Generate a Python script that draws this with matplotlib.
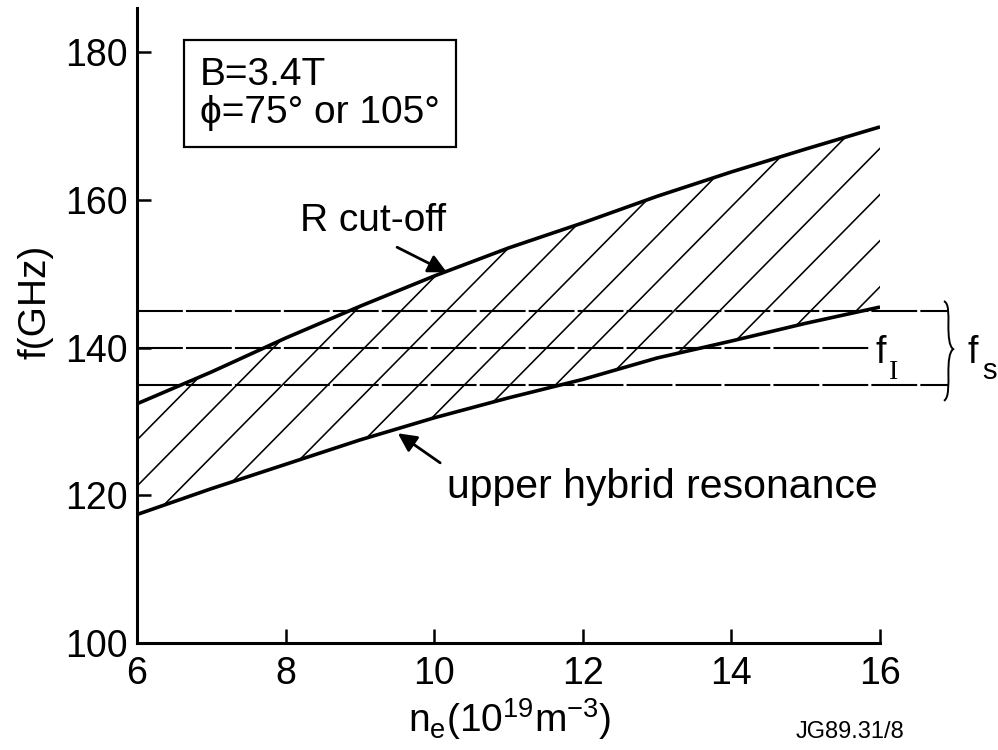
import numpy as np
import matplotlib
matplotlib.use('Agg')
import matplotlib.pyplot as plt
from matplotlib.path import Path
from matplotlib.patches import PathPatch

plt.rcParams['font.family'] = ['Liberation Sans', 'DejaVu Sans']
plt.rcParams['mathtext.fontset'] = 'custom'
plt.rcParams['mathtext.rm'] = 'Liberation Sans'
plt.rcParams['mathtext.it'] = 'Liberation Sans:italic'

# densidad (10^19 m^-3) y frecuencias (GHz)
ne = [6, 7, 8, 9, 10, 11, 12, 13, 14, 15, 16]
f_rcut = [132.4, 136.7, 141.3, 145.6, 149.7, 153.5, 156.9, 160.5, 163.8, 166.9, 169.9]
f_uhr = [117.4, 120.9, 124.2, 127.5, 130.5, 133.2, 135.7, 138.6, 140.9, 143.3, 145.5]

# banda fs y linea fI
f_band = [145, 135]
f_idler = 140

xticks = [6, 8, 10, 12, 14, 16]
yticks = [100, 120, 140, 160, 180]

fig = plt.figure(figsize=(9.98, 7.5), dpi=100)
ax = fig.add_axes([0.1373, 1 - 643 / 750, 0.7445, 635 / 750])
ax.set_xlim(6, 16)
ax.set_ylim(100, 186)

# region entre las curvas (solo para recortar el rayado)
region = ax.fill_between(ne, f_uhr, f_rcut, facecolor='none', edgecolor='none')
clip = region.get_paths()[0]

# rayado diagonal
slope, spacing, f0 = 10.2, 6.25, 127.5
xs = np.array([6.0, 16.0])
for k in range(-2, 26):
    ln, = ax.plot(xs, f0 - spacing * k + slope * (xs - 6), color='black', lw=1.15)
    ln.set_clip_path(clip, ax.transData)

ax.plot(ne, f_rcut, color='black', lw=2.6, solid_capstyle='butt')
ax.plot(ne, f_uhr, color='black', lw=2.6, solid_capstyle='butt')

# lineas horizontales
for f in f_band:
    ax.plot([6, 16.92], [f, f], color='black', lw=1.5, dashes=[22, 1.5], clip_on=False)
ax.plot([6, 15.87], [f_idler, f_idler], color='black', lw=1.5, dashes=[22, 1.5], clip_on=False)

# llave para fs
verts = [(16.86, 146.3), (16.93, 146.0), (16.92, 144.5), (16.92, 143.0),
         (16.92, 141.5), (16.93, 140.2), (16.985, 139.8),
         (16.93, 139.4), (16.92, 138.1), (16.92, 136.6),
         (16.92, 135.0), (16.93, 133.2), (16.86, 132.8)]
codes = [Path.MOVETO, Path.CURVE4, Path.CURVE4, Path.CURVE4,
         Path.CURVE4, Path.CURVE4, Path.CURVE4,
         Path.CURVE4, Path.CURVE4, Path.CURVE4,
         Path.CURVE4, Path.CURVE4, Path.CURVE4]
ax.add_patch(PathPatch(Path(verts, codes), fc='none', ec='black', lw=1.4, clip_on=False))

# etiquetas f_I y f_s
ax.text(15.94, 137.9, 'f', fontsize=27, ha='left', va='baseline', clip_on=False)
ax.text(16.12, 135.7, 'I', fontsize=20, family='Liberation Serif', ha='left', va='baseline',
        clip_on=False)
ax.text(17.18, 137.9, 'f', fontsize=27, ha='left', va='baseline', clip_on=False)
ax.text(17.37, 135.8, 's', fontsize=21, ha='left', va='baseline', clip_on=False)

# anotaciones
ax.annotate('', xy=(10.17, 150.2), xytext=(9.5, 153.6),
            arrowprops=dict(arrowstyle='-|>', color='black', lw=2, mutation_scale=28,
                            shrinkA=0, shrinkB=0))
ax.text(9.18, 157.2, 'R cut-off', fontsize=28, ha='center', va='center')

ax.annotate('', xy=(9.51, 128.4), xytext=(10.08, 124.4),
            arrowprops=dict(arrowstyle='-|>', color='black', lw=2, mutation_scale=28,
                            shrinkA=0, shrinkB=0))
ax.text(13.07, 121.1, 'upper hybrid resonance', fontsize=29.5, ha='center', va='center')

ax.text(6.85, 179.4, 'B=3.4T\nϕ=75° or 105°', fontsize=28, ha='left', va='top',
        linespacing=1.08,
        bbox=dict(boxstyle='square,pad=0.42', fc='white', ec='black', lw=1.6))

# ejes
for s in ['top', 'right']:
    ax.spines[s].set_visible(False)
for s in ['left', 'bottom']:
    ax.spines[s].set_linewidth(2.2)
ax.set_xticks(xticks)
ax.set_yticks(yticks)
ax.tick_params(axis='both', direction='in', length=10, width=1.8, labelsize=27)
ax.tick_params(axis='x', pad=9)
ax.tick_params(axis='y', pad=7)

ax.set_ylabel('f(GHz)', fontsize=28)
ax.yaxis.set_label_coords(-0.112, 0.537)
ax.set_xlabel(r'n$_\mathregular{e}$(10$^\mathregular{19}$m$^\mathregular{-3}$)', fontsize=28)
ax.xaxis.set_label_coords(0.502, -0.084)

fig.text(0.852, 0.024, 'JG89.31/8', fontsize=17, ha='center', va='center')

plt.savefig('out.png', dpi=100)
plt.close(fig)
